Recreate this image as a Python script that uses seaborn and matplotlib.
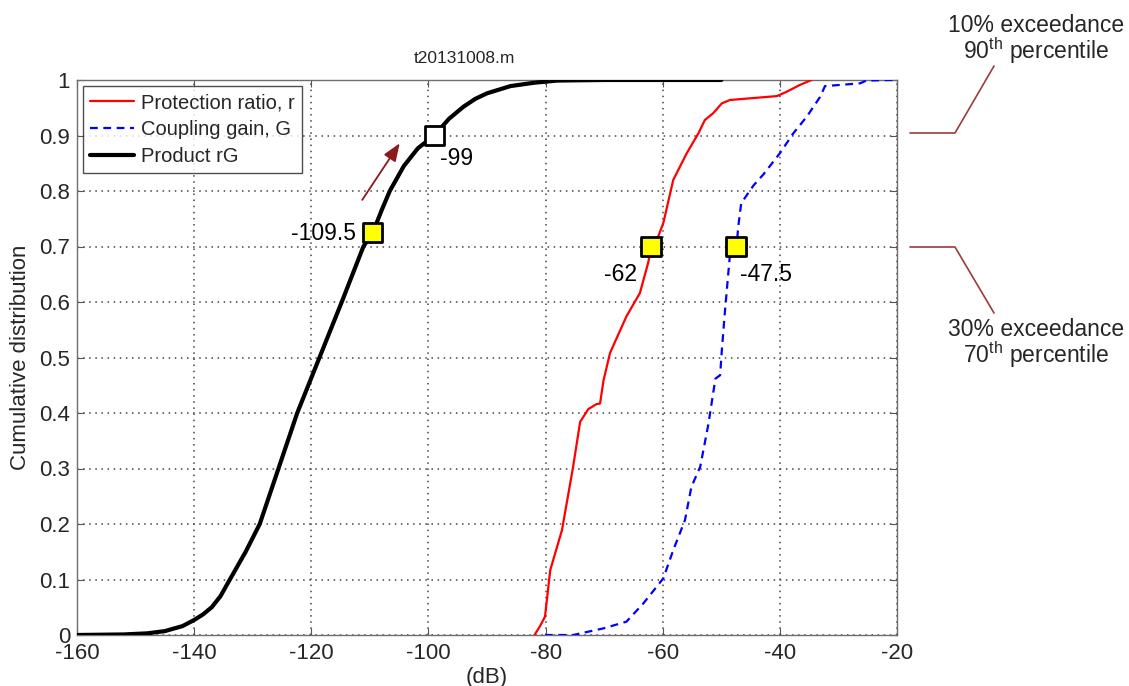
import matplotlib
matplotlib.use("Agg")
import matplotlib.pyplot as plt
import seaborn as sns
from matplotlib.lines import Line2D

# ---------------- data ----------------
prod_db = [-160, -152, -148, -145, -142, -140, -138.5, -137, -135.5, -133.9, -131.2,
           -128.8, -125.6, -122.4, -118.6, -114.8, -111.1, -109.5, -108, -106.6,
           -104.2, -101.8, -99, -96.5, -94, -92, -90, -86, -82, -78, -70, -50]
prod_cdf = [0.0, 0.001, 0.003, 0.007, 0.016, 0.027, 0.037, 0.05, 0.07, 0.1, 0.15,
            0.2, 0.3, 0.4, 0.5, 0.6, 0.7, 0.725, 0.765, 0.8, 0.845, 0.877, 0.9,
            0.93, 0.952, 0.966, 0.976, 0.989, 0.995, 0.999, 1.0, 1.0]

ratio_db = [-81.9, -81.0, -80.1, -79.2, -78.7, -77.2, -75.3, -74.1, -72.7, -71.3,
            -70.7, -70.1, -69.0, -66.2, -63.9, -62.5, -61.9, -61.0, -59.9, -58.2,
            -55.9, -53.9, -52.8, -51.4, -49.9, -48.5, -40.5, -38.8, -36.6, -34.6]
ratio_cdf = [0.0, 0.015, 0.033, 0.117, 0.135, 0.189, 0.303, 0.384, 0.407, 0.416,
             0.417, 0.459, 0.508, 0.574, 0.616, 0.670, 0.70, 0.712, 0.742, 0.82,
             0.868, 0.904, 0.928, 0.94, 0.958, 0.964, 0.971, 0.979, 0.991, 1.0]

gain_db = [-80.1, -75.3, -70.1, -66.2, -63.3, -59.9, -58.2, -56.2, -55.1, -53.6,
           -52.2, -51.0, -50.2, -49.9, -49.4, -48.5, -47.4, -47.1, -46.6, -44.5,
           -42.8, -40.0, -37.7, -35.4, -33.1, -32.3, -26.3, -25.2, -21.2, -20]
gain_cdf = [0.0, 0.0, 0.012, 0.024, 0.057, 0.102, 0.153, 0.207, 0.267, 0.303,
            0.38, 0.462, 0.468, 0.514, 0.58, 0.688, 0.70, 0.736, 0.778, 0.81,
            0.83, 0.868, 0.904, 0.934, 0.97, 0.989, 0.994, 0.999, 1.0, 1.0]

marker_db = [-109.5, -99, -62, -47.5]
marker_p = [0.725, 0.9, 0.70, 0.70]
marker_fc = ["yellow", "white", "yellow", "yellow"]
marker_labels = ["-109.5", "-99", "-62", "-47.5"]
label_db = [-112.3, -98.0, -64.4, -46.8]
label_p = [0.724, 0.859, 0.649, 0.649]
label_ha = ["right", "left", "right", "left"]

xticks = [-160, -140, -120, -100, -80, -60, -40, -20]
yticks = [0, 0.1, 0.2, 0.3, 0.4, 0.5, 0.6, 0.7, 0.8, 0.9, 1]
ytick_labels = ["0", "0.1", "0.2", "0.3", "0.4", "0.5", "0.6", "0.7", "0.8", "0.9", "1"]

series_names = ["Protection ratio, r", "Coupling gain, G", "Product rG"]

# ---------------- style ----------------
sns.set_theme(style="white")
plt.rcParams["font.family"] = ["Liberation Sans", "DejaVu Sans"]
plt.rcParams["mathtext.fontset"] = "custom"
plt.rcParams["mathtext.rm"] = "Liberation Sans"
plt.rcParams["mathtext.it"] = "Liberation Sans:italic"

W, H = 1129, 686
fig = plt.figure(figsize=(W / 100, H / 100), dpi=100)
ax = fig.add_axes([77 / W, 51 / H, 820 / W, 555 / H])

sns.lineplot(x=ratio_db, y=ratio_cdf, ax=ax, color="#ff0000", linewidth=1.6,
             sort=False, estimator=None, label=series_names[0], zorder=3)
sns.lineplot(x=gain_db, y=gain_cdf, ax=ax, color="#0000ff", linewidth=1.6,
             linestyle=(0, (3.5, 2.5)), sort=False, estimator=None,
             label=series_names[1], zorder=3)
sns.lineplot(x=prod_db, y=prod_cdf, ax=ax, color="black", linewidth=3.0,
             sort=False, estimator=None, label=series_names[2], zorder=3)

ax.scatter(marker_db, marker_p, marker="s", s=190, c=marker_fc,
           edgecolors="black", linewidths=2.0, zorder=6)
for xd, yd, t, ha in zip(label_db, label_p, marker_labels, label_ha):
    ax.text(xd, yd, t, ha=ha, va="center", fontsize=16.5, color="black", zorder=7)

# arrow
ax.annotate("", xy=(-104.9, 0.886), xytext=(-111.3, 0.784),
            arrowprops=dict(arrowstyle="-|>,head_length=0.9,head_width=0.35",
                            color="#8b1a1a", lw=1.3, shrinkA=0, shrinkB=0),
            zorder=6)

ax.set_xlim(-160, -20)
ax.set_ylim(0, 1)
ax.set_xticks(xticks)
ax.set_xticklabels([str(v) for v in xticks])
ax.set_yticks(yticks)
ax.set_yticklabels(ytick_labels)
ax.tick_params(axis="both", which="both", direction="in", length=5, width=0.8,
               color="#555555", labelsize=16, top=True, right=True,
               bottom=True, left=True)
ax.tick_params(axis="x", pad=6)
ax.tick_params(axis="y", pad=5)
ax.grid(True, linestyle=(0, (1, 3)), color="#444444", linewidth=1.1)
for sp in ax.spines.values():
    sp.set_color("#6e6e6e")
    sp.set_linewidth(1.0)

ax.set_title("t20131008.m", fontsize=12.5, pad=12,
             x=(464 - 77) / 820)
ax.set_xlabel("(dB)", fontsize=16, labelpad=2)
ax.set_ylabel("Cumulative distribution", fontsize=16, labelpad=6)

leg = ax.legend(loc="upper left", fontsize=14.5, frameon=True, fancybox=False,
                borderaxespad=0.3, handlelength=2.2, handletextpad=0.35,
                labelspacing=0.4, borderpad=0.35)
leg.get_frame().set_edgecolor("#222222")
leg.get_frame().set_linewidth(1.0)

# ---------------- outside annotations ----------------
def fx(px):
    return px / W

def fy(py):
    return 1 - py / H

ann_color = "#9b3b3b"
fig.add_artist(Line2D([fx(910), fx(955), fx(994)], [fy(133), fy(133), fy(66)],
                      color=ann_color, lw=1.2))
fig.add_artist(Line2D([fx(910), fx(955), fx(994)], [fy(247), fy(247), fy(313)],
                      color=ann_color, lw=1.2))
fig.text(fx(1036), fy(25), "10% exceedance", ha="center", va="center", fontsize=16.5)
fig.text(fx(1036), fy(51), r"90$^{\mathrm{th}}$ percentile", ha="center", va="center",
         fontsize=16.5)
fig.text(fx(1036), fy(329), "30% exceedance", ha="center", va="center", fontsize=16.5)
fig.text(fx(1036), fy(355), r"70$^{\mathrm{th}}$ percentile", ha="center", va="center",
         fontsize=16.5)

fig.savefig("out.png", dpi=100)
